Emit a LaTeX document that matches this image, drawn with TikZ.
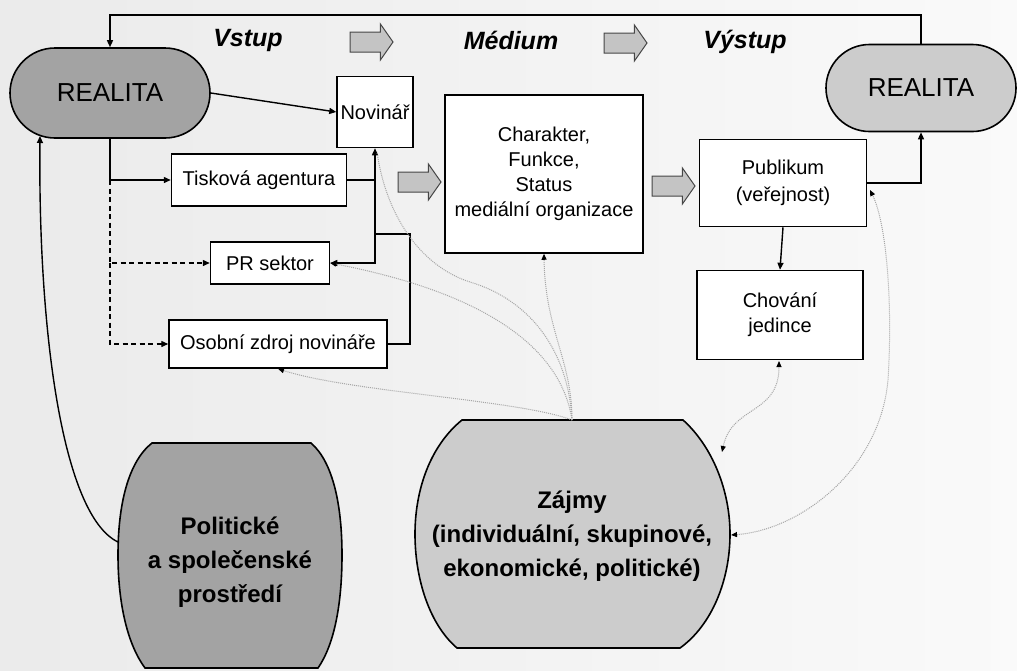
\documentclass[tikz,border=0pt]{standalone}
\usepackage{fontspec}
\setmainfont{Liberation Sans}
\usetikzlibrary{arrows.meta,shapes.arrows}
\definecolor{darkfill}{RGB}{163,163,163}
\definecolor{lightfill}{RGB}{204,204,204}
\definecolor{arrfill}{RGB}{196,196,196}
\begin{document}
\begin{tikzpicture}[x=1pt,y=-1pt,
  >={Triangle[length=7pt,width=6pt]},
  box/.style={draw, line width=1.5pt, fill=white, align=center, inner sep=0pt, font=\fontsize{20}{25}\selectfont},
  conn/.style={line width=1.4pt},
  dashconn/.style={line width=1.4pt, dash pattern=on 5pt off 3.5pt},
  infl/.style={draw=gray!70, densely dotted, line width=1pt},
  gtip/.style={-{Triangle[length=6pt,width=5pt,color=black]}},
  gtips/.style={{Triangle[length=6pt,width=5pt,color=black]}-{Triangle[length=6pt,width=5pt,color=black]}},
  blockarr/.style={single arrow, draw=gray!55!black, fill=arrfill, line width=1pt, minimum height=43pt, inner xsep=0pt, inner ysep=9.5pt, single arrow head extend=8pt, single arrow tip angle=110},
  phase/.style={font=\fontsize{25}{30}\selectfont\bfseries\itshape},
  real/.style={draw, line width=1.6pt, font=\fontsize{26}{30}\selectfont, inner sep=0pt},
  blob/.style={draw, line width=1.6pt},
  blobtext/.style={align=center, font=\fontsize{24}{34}\selectfont\bfseries}]

% background / bounding box
\path[use as bounding box, left color=gray!16, right color=gray!4] (0,0) rectangle (1017,670);

% phase labels and block arrows
\node[phase] (vstup) at (248,40) {Vstup};
\node[phase] (medium) at (511,40) {Médium};
\node[phase] (vystup) at (745,42) {Výstup};
\node[blockarr] (arr1) at (368,42) {};
\node[blockarr] (arr2) at (622,43) {};
\node[blockarr] (arr3) at (416,182) {};
\node[blockarr] (arr4) at (670,186) {};

% REALITA nodes
\node[real, fill=darkfill, minimum width=200pt, minimum height=90pt, rounded corners=45pt] (realL) at (110,93) {REALITA};
\node[real, fill=lightfill, minimum width=190pt, minimum height=87pt, rounded corners=43.5pt] (realR) at (921,88) {REALITA};

% boxes
\node[box, minimum width=76pt, minimum height=71pt] (nov) at (375,112) {Novinář};
\node[box, minimum width=175pt, minimum height=52pt] (tisk) at (259,180) {Tisková agentura};
\node[box, minimum width=119pt, minimum height=42pt] (pr) at (270,263) {PR sektor};
\node[box, minimum width=218pt, minimum height=48pt] (osob) at (278,344) {Osobní zdroj novináře};
\node[box, minimum width=198pt, minimum height=158pt] (char) at (544,174) {Charakter,\\Funkce,\\Status\\mediální organizace};
\node[box, minimum width=167pt, minimum height=87pt, font=\fontsize{20}{27}\selectfont] (pub) at (783,183) {Publikum\\(veřejnost)};
\node[box, minimum width=166pt, minimum height=89pt, font=\fontsize{20}{25}\selectfont] (chov) at (780,315) {Chování\\jedince};

% Politicke a spolecenske prostredi
\path[blob, fill=darkfill] (152,443) -- (311,443)
  .. controls (333,462) and (342,505) .. (342,555)
  .. controls (342,605) and (334,645) .. (318,668)
  -- (145,668)
  .. controls (128,645) and (118,605) .. (118,555)
  .. controls (118,505) and (128,462) .. (152,443) -- cycle;
\node[blobtext] (pol) at (230,562) {Politické\\a společenské\\prostředí};

% Zajmy
\path[blob, fill=lightfill] (462,420) -- (683,420)
  .. controls (712,446) and (730,490) .. (730,534)
  .. controls (730,580) and (712,625) .. (680,648)
  -- (457,648)
  .. controls (430,625) and (415,580) .. (415,534)
  .. controls (415,490) and (430,446) .. (462,420) -- cycle;
\node[blobtext] (zaj) at (572,536) {Zájmy\\(individuální, skupinové,\\ekonomické, politické)};

% named points
\coordinate (top) at (0,15);
\coordinate (clow) at (40,136);
\coordinate (pleft) at (118,542);
\coordinate (join) at (410,234);
\coordinate (zt) at (572,420);
\coordinate (zr1) at (722,452);
\coordinate (zr2) at (731,535);
\coordinate (pubin) at (870,190);
\coordinate (chovin) at (779,361);
\coordinate (novin) at (377,152);

% black connectors
\draw[conn,->] (realR.north) -- (realR.north |- top) -| (realL.north);
\draw[conn,->] (realL.east) -- (nov.west);
\draw[conn,->] (realL.south) |- (tisk.west);
\draw[dashconn,->] (realL.south |- tisk.west) |- (pr.west);
\draw[dashconn,->] (realL.south |- pr.west) |- (osob.west);
\draw[conn] (tisk.east) -- (tisk.east -| nov.south);
\draw[conn,<->] (nov.south) |- (pr.east);
\draw[conn] (osob.east) -| (join) -- (join -| nov.south);
\draw[conn,->] (pub.east) -| (realR.south);
\draw[conn,->] (pub.south) -- (chov.north);
\draw[conn,->] (pleft) .. controls (62,515) and (38,330) .. (clow);

% dotted influence curves from Zajmy
\draw[infl] (zt) .. controls (568,350) and (530,300) .. (470,282)
  .. controls (420,266) and (386,215) .. (novin);
\draw[infl,gtip] (zt) .. controls (560,340) and (470,290) .. (pr.east);
\draw[infl,gtip] (zt) .. controls (572,360) and (545,330) .. (char.south);
\draw[infl,gtip] (zt) .. controls (520,400) and (350,392) .. (osob.south);
\draw[infl,gtips] (zr1) .. controls (732,405) and (779,415) .. (chovin);
\draw[infl,gtips] (zr2) .. controls (800,530) and (880,470) .. (888,380)
  .. controls (893,300) and (886,222) .. (pubin);
\end{tikzpicture}
\end{document}
